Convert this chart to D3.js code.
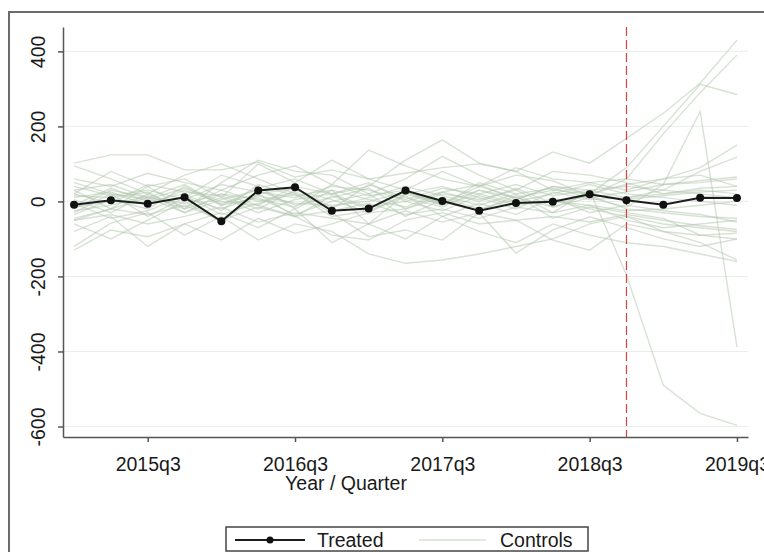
<!DOCTYPE html>
<html>
<head>
<meta charset="utf-8">
<script src="https://cdn.jsdelivr.net/npm/d3@7"></script>
<style>
  html, body { margin: 0; padding: 0; background: #fff; }
  svg { display: block; }
  text { font-family: "Liberation Sans", Arial, sans-serif; }
</style>
</head>
<body>
<svg id="chart" width="764" height="552"></svg>
<script>
// Quarters 2015q1 .. 2019q3
const quarters = ["2015q1","2015q2","2015q3","2015q4","2016q1","2016q2","2016q3","2016q4",
  "2017q1","2017q2","2017q3","2017q4","2018q1","2018q2","2018q3","2018q4",
  "2019q1","2019q2","2019q3"];
const xTickLabels = ["2015q3","2016q3","2017q3","2018q3","2019q3"];
const yTicks = [-600, -400, -200, 0, 200, 400];
const treatmentQuarter = "2018q4";

// Treated unit
const treated = [-9, 3, -6, 11, -53, 29, 38, -25, -19, 29, 1, -25, -4, -1, 19, 3, -9, 10, 9];

// Control units
const controls = [
  [102, 124, 124, 84, 84, 105, 65, 84, 60, 75, 90, 100, 80, 132, 102, 168, 235, 315, 430],
  [60, 40, 75, 50, 30, 70, 95, 45, 137, 95, 60, 40, 70, 55, 15, 60, 180, 290, 390],
  [-20, 30, 10, 45, -10, 35, 60, 20, 40, 110, 164, 102, 80, 30, 20, 90, 200, 312, 285],
  [-50, -20, 10, -30, 20, -10, -40, 15, -20, 25, -5, 30, 10, -15, 10, -15, 45, 240, -388],
  [-130, -76, -94, -60, -103, -45, -85, -60, -30, -20, 10, -20, 5, 40, 30, -196, -490, -565, -597],
  [-120, -58, -30, -90, -40, -103, -60, -80, -140, -165, -156, -140, -120, -100, -60, -40, -80, -110, -156],
  [95, 60, 20, 70, 100, 60, 20, -30, -94, -76, -103, -30, -138, -76, -41, -70, -100, -120, -100],
  [-60, -100, -50, 0, -55, 20, -40, -90, -103, -50, -30, -60, -50, -103, -130, -60, -80, -90, -85],
  [30, -20, 40, 60, 10, 100, 50, 110, 60, 30, 80, 40, 90, 60, 50, 30, 60, 90, 150],
  [-30, 20, -40, 10, 70, 40, -20, 30, -60, 20, -10, 50, 20, -30, 30, 10, 30, 80, 118],
  [20, 80, 40, -20, 50, 110, 80, 70, 20, 60, 120, 70, 30, 80, 70, 50, 20, 30, 20],
  [-80, -40, -120, -60, -30, -70, -20, -110, -60, -100, -40, -80, -110, -60, -90, -110, -120, -140, -160],
  [10, 25, -10, 30, -5, 20, 35, -15, 10, 40, 15, -10, 20, 35, 10, 25, 45, 50, 60],
  [-25, -10, 15, -20, 10, -30, 5, 20, -15, 0, -25, 15, -10, 5, -20, -40, -60, -70, -80],
  [40, 15, 30, 5, 45, 25, 10, 40, 30, 5, 35, 20, 45, 15, 30, 40, 30, 20, 10],
  [-45, -20, -35, -10, -50, -15, -40, -25, -5, -35, -20, -45, -15, -30, -10, -50, -70, -60, -50],
  [5, -30, 20, -15, 30, 0, 25, -20, 45, 10, -15, 30, 0, 20, 45, 20, 10, 0, -10],
  [-10, 35, 0, 20, -25, 45, 15, 30, 5, -15, 25, 0, 35, -5, 15, -20, -30, -40, -45],
  [20, -5, 45, 25, 15, -20, 30, 5, -30, 20, 40, 10, -20, 25, 5, 10, 20, 35, 40],
  [-35, 5, -20, 40, -10, 10, -35, 0, 20, -40, 5, -25, 15, -45, -15, -30, -45, -90, -100],
  [30, 45, 10, -5, 20, 5, -15, 45, 15, 30, -5, 40, 10, 30, 50, 60, 45, 55, 65],
  [-5, -45, -25, 15, -35, -5, 20, -40, -25, 15, -40, -5, -35, 10, -30, -10, -25, -35, -55],
  [15, 10, 25, -30, 5, 30, -10, 10, 35, -20, 20, 5, 30, -15, 20, 5, 15, 25, 30],
  [-15, 0, -5, 10, -20, 15, -5, -10, 0, 25, -10, 20, -5, 0, -10, -25, -20, -10, 0],
  [50, 20, 5, 35, 0, -10, 40, 20, 50, 0, 25, 45, 5, 40, 20, 45, 60, 70, 40],
  [-50, -35, -60, -40, -15, -55, -30, -45, -60, -25, -55, -30, -50, -40, -55, -35, -50, -65, -75]
];

const svg = d3.select("#chart");
const W = 764, H = 552;
const plot = { left: 63, right: 748, top: 27, bottom: 437 };
const controlColor = "#b0c6ab";
const controlOpacity = 0.5;

// Outer graph frame
svg.append("rect")
  .attr("x", 9).attr("y", 12).attr("width", W + 20).attr("height", H + 20)
  .attr("fill", "none").attr("stroke", "#6b6b6b").attr("stroke-width", 2);

const x = d3.scaleLinear().domain([-0.3, quarters.length - 0.7]).range([plot.left, plot.right]);
const y = d3.scaleLinear().domain([-628, 465]).range([plot.bottom, plot.top]);
const qx = q => x(quarters.indexOf(q));

// Horizontal grid lines
svg.append("g").selectAll("line").data(yTicks).join("line")
  .attr("x1", plot.left).attr("x2", plot.right)
  .attr("y1", d => y(d)).attr("y2", d => y(d))
  .attr("stroke", "#ececec").attr("stroke-width", 1);

svg.append("clipPath").attr("id", "plotclip").append("rect")
  .attr("x", plot.left).attr("y", plot.top - 4)
  .attr("width", plot.right - plot.left).attr("height", plot.bottom - plot.top + 4);

const line = d3.line().x((d, i) => x(i)).y(d => y(d));

// Control units
svg.append("g").attr("clip-path", "url(#plotclip)")
  .selectAll("path").data(controls).join("path")
  .attr("d", line)
  .attr("fill", "none")
  .attr("stroke", controlColor)
  .attr("stroke-opacity", controlOpacity)
  .attr("stroke-width", 1.4);

// Treatment date
svg.append("line")
  .attr("x1", qx(treatmentQuarter)).attr("x2", qx(treatmentQuarter))
  .attr("y1", plot.top).attr("y2", plot.bottom)
  .attr("stroke", "#d9443f").attr("stroke-width", 1.2)
  .attr("stroke-dasharray", "9,4");

// Treated unit
svg.append("path").datum(treated)
  .attr("d", line).attr("fill", "none")
  .attr("stroke", "#1b1f1b").attr("stroke-width", 2);
svg.append("g").selectAll("circle").data(treated).join("circle")
  .attr("cx", (d, i) => x(i)).attr("cy", d => y(d)).attr("r", 4)
  .attr("fill", "#111");

// Axes
const xAxis = d3.axisBottom(x)
  .tickValues(xTickLabels.map(q => quarters.indexOf(q)))
  .tickFormat(i => quarters[i])
  .tickSize(5).tickSizeOuter(0);
const gx = svg.append("g").attr("transform", `translate(0,${plot.bottom})`).call(xAxis);
gx.select(".domain").attr("stroke", "#555").attr("stroke-width", 1.5);
gx.selectAll(".tick line").attr("stroke", "#555").attr("stroke-width", 1.5);
gx.selectAll(".tick text").attr("font-size", 19.5).attr("fill", "#1a1a1a")
  .attr("dy", null).attr("y", 34);

const yAxis = d3.axisLeft(y).tickValues(yTicks).tickFormat(d => String(d))
  .tickSize(5).tickSizeOuter(0);
const gy = svg.append("g").attr("transform", `translate(${plot.left},0)`).call(yAxis);
gy.select(".domain").attr("stroke", "#555").attr("stroke-width", 1.5);
gy.selectAll(".tick line").attr("stroke", "#555").attr("stroke-width", 1.5);
gy.selectAll(".tick text")
  .attr("font-size", 19.5).attr("fill", "#1a1a1a")
  .attr("x", null).attr("dy", null).attr("y", null)
  .attr("text-anchor", "middle")
  .attr("transform", "translate(-18,0) rotate(-90)");

// Axis title
svg.append("text").attr("x", 346).attr("y", 490)
  .attr("text-anchor", "middle").attr("font-size", 19.5).attr("fill", "#1a1a1a")
  .text("Year / Quarter");

// Legend
const lg = svg.append("g");
lg.append("rect").attr("x", 226).attr("y", 527).attr("width", 362).attr("height", 24)
  .attr("fill", "#fff").attr("stroke", "#444").attr("stroke-width", 1.5);
lg.append("line").attr("x1", 235).attr("x2", 305).attr("y1", 540).attr("y2", 540)
  .attr("stroke", "#1b1f1b").attr("stroke-width", 2);
lg.append("circle").attr("cx", 270).attr("cy", 540).attr("r", 3.5).attr("fill", "#111");
lg.append("text").attr("x", 317).attr("y", 547).attr("font-size", 19.5).attr("fill", "#1a1a1a").text("Treated");
lg.append("line").attr("x1", 419).attr("x2", 486).attr("y1", 540).attr("y2", 540)
  .attr("stroke", controlColor).attr("stroke-opacity", controlOpacity).attr("stroke-width", 1.4);
lg.append("text").attr("x", 500).attr("y", 547).attr("font-size", 19.5).attr("fill", "#1a1a1a").text("Controls");
</script>
</body>
</html>
